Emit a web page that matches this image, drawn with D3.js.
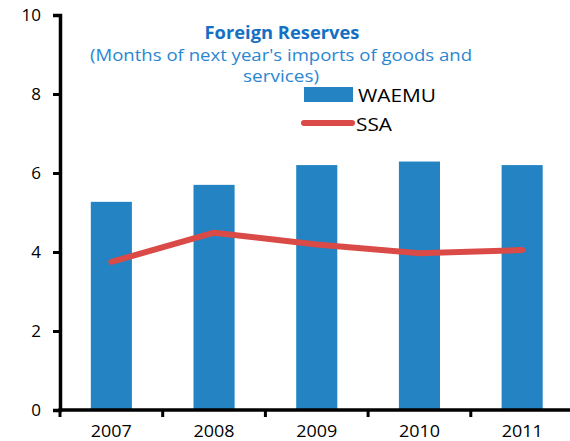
<!DOCTYPE html>
<html>
<head>
<meta charset="utf-8">
<script src="https://cdn.jsdelivr.net/npm/d3@7"></script>
<style>
  body { margin: 0; background: #fff; }
  svg { display: block; font-family: "Open Sans", sans-serif; }
</style>
</head>
<body>
<div id="chart"></div>
<script>
// chart data
const years = ["2007", "2008", "2009", "2010", "2011"];
const waemu = [5.27, 5.70, 6.20, 6.29, 6.20];
const ssa = [3.75, 4.49, 4.19, 3.97, 4.05];
const yTicks = [0, 2, 4, 6, 8, 10];

const width = 570;
const height = 441;

const x = d3.scaleBand()
    .domain(years)
    .range([60, 573.5])
    .paddingInner(0.6)
    .paddingOuter(0.3);

const y = d3.scaleLinear()
    .domain([0, 10])
    .range([410, 15]);

const svg = d3.select("#chart")
    .append("svg")
    .attr("width", width)
    .attr("height", height);

// bars
svg.selectAll(".bar")
    .data(years)
    .enter()
    .append("rect")
    .attr("class", "bar")
    .attr("x", d => x(d))
    .attr("y", (d, i) => y(waemu[i]))
    .attr("width", x.bandwidth())
    .attr("height", (d, i) => y(0) - y(waemu[i]))
    .attr("fill", "#2383c3");

// SSA line
const line = d3.line()
    .x((d, i) => x(years[i]) + x.bandwidth() / 2)
    .y(d => y(d));

svg.append("path")
    .datum(ssa)
    .attr("d", line)
    .attr("fill", "none")
    .attr("stroke", "#da4a47")
    .attr("stroke-width", 6)
    .attr("stroke-linecap", "round")
    .attr("stroke-linejoin", "round");

// y axis
const yAxis = svg.append("g")
    .attr("transform", "translate(60,0)")
    .call(d3.axisLeft(y).tickValues(yTicks).tickSize(7).tickPadding(12));
yAxis.select(".domain").attr("stroke-width", 3.5);
yAxis.selectAll(".tick line").attr("stroke-width", 3);
yAxis.selectAll(".tick text")
    .attr("font-size", 17)
    .attr("font-family", "Open Sans, sans-serif")
    .attr("fill", "#000");

// x axis: labels centred on bars, ticks at the band edges
const xAxis = svg.append("g")
    .attr("transform", `translate(0,${y(0)})`)
    .call(d3.axisBottom(x).tickSize(0).tickPadding(15));
xAxis.select(".domain").remove();
xAxis.selectAll(".tick text")
    .attr("font-size", 17)
    .attr("font-family", "Open Sans, sans-serif")
    .attr("textLength", 41)
    .attr("lengthAdjust", "spacingAndGlyphs")
    .attr("fill", "#000");

svg.append("line")
    .attr("x1", 58.25).attr("x2", width)
    .attr("y1", y(0)).attr("y2", y(0))
    .attr("stroke", "#000")
    .attr("stroke-width", 3.5);

const edges = years.map(d => x(d) - (x.step() - x.bandwidth()) / 2);
svg.selectAll(".xtick")
    .data(edges)
    .enter()
    .append("line")
    .attr("class", "xtick")
    .attr("x1", d => d).attr("x2", d => d)
    .attr("y1", y(0)).attr("y2", y(0) + 7)
    .attr("stroke", "#000")
    .attr("stroke-width", 3);

// titles
svg.append("text")
    .attr("x", 282)
    .attr("y", 39)
    .attr("text-anchor", "middle")
    .attr("font-size", 17)
    .attr("font-weight", "bold")
    .attr("fill", "#1570c4")
    .attr("textLength", 155)
    .attr("lengthAdjust", "spacingAndGlyphs")
    .text("Foreign Reserves");

svg.append("text")
    .attr("x", 281)
    .attr("y", 61)
    .attr("text-anchor", "middle")
    .attr("font-size", 17)
    .attr("fill", "#2a86d2")
    .attr("textLength", 382)
    .attr("lengthAdjust", "spacingAndGlyphs")
    .text("(Months of next year's imports of goods and");

svg.append("text")
    .attr("x", 281)
    .attr("y", 82)
    .attr("text-anchor", "middle")
    .attr("font-size", 17)
    .attr("fill", "#2a86d2")
    .attr("textLength", 76)
    .attr("lengthAdjust", "spacingAndGlyphs")
    .text("services)");

// legend
svg.append("rect")
    .attr("x", 304).attr("y", 87)
    .attr("width", 49).attr("height", 15)
    .attr("fill", "#2383c3");
svg.append("text")
    .attr("x", 358).attr("y", 102)
    .attr("font-size", 18)
    .attr("fill", "#000")
    .attr("textLength", 78)
    .attr("lengthAdjust", "spacingAndGlyphs")
    .text("WAEMU");

svg.append("line")
    .attr("x1", 304).attr("x2", 352)
    .attr("y1", 123).attr("y2", 123)
    .attr("stroke", "#da4a47")
    .attr("stroke-width", 6)
    .attr("stroke-linecap", "round");
svg.append("text")
    .attr("x", 356).attr("y", 131)
    .attr("font-size", 18)
    .attr("fill", "#000")
    .attr("textLength", 36)
    .attr("lengthAdjust", "spacingAndGlyphs")
    .text("SSA");
</script>
</body>
</html>
